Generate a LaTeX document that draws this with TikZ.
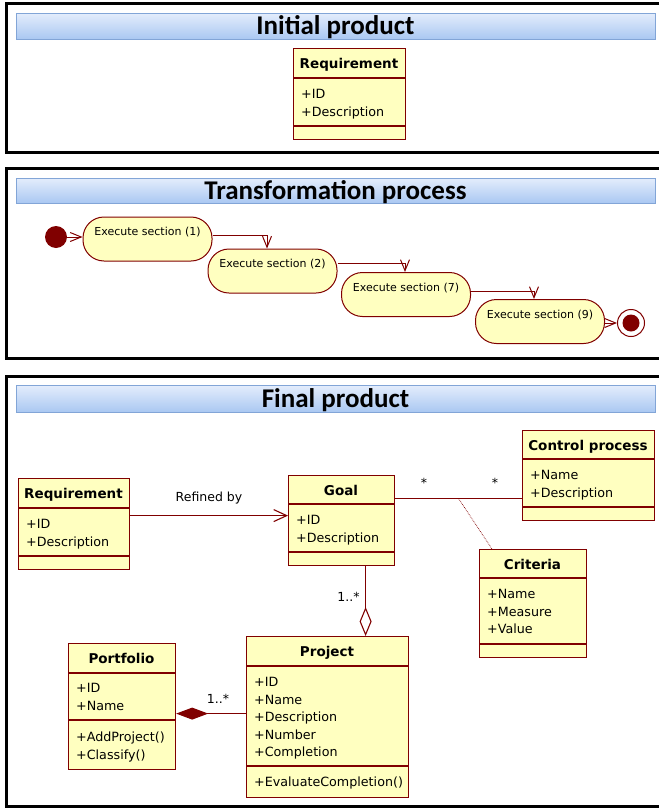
\documentclass[tikz,border=0pt]{standalone}
\usepackage{fontspec}
\setmainfont{DejaVu Sans}
\newfontfamily\titlefont{Carlito}
\usetikzlibrary{arrows.meta}
\definecolor{umlred}{RGB}{128,0,0}
\definecolor{umlyellow}{RGB}{255,255,192}
\definecolor{bartop}{RGB}{228,237,252}
\definecolor{barbot}{RGB}{170,200,242}
\definecolor{barline}{RGB}{130,165,215}
\tikzset{
  panel/.style={draw=black, line width=3pt},
  titlebar/.style={draw=barline, line width=0.8pt, top color=bartop, bottom color=barbot,
    minimum width=639pt, inner sep=0pt, text height=17.4pt, text depth=0pt,
    font=\titlefont\bfseries\fontsize{27}{30}\selectfont},
  classbox/.style={draw=umlred, fill=umlyellow, line width=1.2pt, anchor=north west, inner sep=0pt},
  classline/.style={draw=umlred, line width=1.2pt},
  clsname/.style={inner sep=0pt, text height=9.8pt, text depth=0pt,
    font=\bfseries\fontsize{13.5}{16}\selectfont},
  clsattr/.style={anchor=north west, align=left, inner sep=0pt,
    font=\fontsize{12.7}{17.5}\selectfont},
  actstate/.style={draw=umlred, fill=umlyellow, line width=1pt, rounded corners=21pt,
    minimum width=129pt, minimum height=44pt, inner sep=0pt, text height=9pt, text depth=16pt,
    font=\fontsize{11}{13}\selectfont},
  initnode/.style={circle, fill=umlred, minimum size=22pt, inner sep=0pt},
  finout/.style={circle, draw=umlred, fill=white, line width=1pt, minimum size=27pt, inner sep=0pt},
  finin/.style={circle, fill=umlred, minimum size=17pt, inner sep=0pt},
  trans/.style={draw=umlred, line width=1pt, -{Straight Barb[length=11pt,width=9pt]}},
  umlline/.style={draw=umlred, line width=1.1pt},
  lbl/.style={anchor=base, inner sep=0pt, font=\fontsize{12.5}{15}\selectfont},
}
\newcommand\umlclass[8]{%
  \node[classbox, minimum width={(#4-#2)*1pt}, minimum height={(#5-#3)*1pt}] (#1) at (#2,#3) {};
  \draw[classline] ([yshift={(#3-#6)*1pt}]#1.north west) -- ([yshift={(#3-#6)*1pt}]#1.north east);
  \draw[classline] ([yshift={(#3-#7)*1pt}]#1.north west) -- ([yshift={(#3-#7)*1pt}]#1.north east);
  \node[clsname] (#1-name) at ({(#2+#4)/2},{(#3+#6)/2+1}) {#8};
}
\begin{document}
\begin{tikzpicture}[x=1pt, y=-1pt]
\useasboundingbox (0,0) rectangle (659,809);
% panels
\draw[panel] (659,3) -- (6,3) -- (6,152) -- (659,152);
\draw[panel] (659,168) -- (6,168) -- (6,358) -- (659,358);
\draw[panel] (659,376) -- (6,376) -- (6,806) -- (659,806);
% title bars
\node[titlebar, minimum height=26pt] (t1) at (335.5,26) {Initial product};
\node[titlebar, minimum height=25pt] (t2) at (335.5,190.5) {Transformation process};
\node[titlebar, minimum height=27pt] (t3) at (335.5,398.5) {Final product};
% initial product
\umlclass{ireq}{293}{48}{405}{139}{78}{126}{Requirement}
\node[clsattr] (ireq-attr) at (301,88.6) {\rule{0pt}{10pt}+ID\\+Description};
% transformation process
\node[initnode] (init) at (56,237) {};
\node[actstate] (s1) at (147.5,239) {Execute section (1)};
\node[actstate] (s2) at (272.5,271) {Execute section (2)};
\node[actstate] (s3) at (406,294.5) {Execute section (7)};
\node[actstate] (s4) at (540,321.5) {Execute section (9)};
\node[finout] (fin) at (631,323) {};
\node[finin] (fin-dot) at (fin) {};
\draw[trans] (init.east) -- (init.east -| s1.west);
\draw[trans] ([yshift=4pt]s1.east) -| ([xshift=-5.5pt]s2.north);
\draw[trans] ([yshift=8pt]s2.east) -| ([xshift=-1pt]s3.north);
\draw[trans] ([yshift=3.5pt]s3.east) -| ([xshift=-6pt]s4.north);
\draw[trans] (fin.west -| s4.east) -- (fin.west);
% final product
\umlclass{req}{18}{478}{129}{569}{508}{556}{Requirement}
\node[clsattr] (req-attr) at (26,518.6) {\rule{0pt}{10pt}+ID\\+Description};
\umlclass{goal}{288}{475}{394}{565}{504}{552}{Goal}
\node[clsattr] (goal-attr) at (296,514.6) {\rule{0pt}{10pt}+ID\\+Description};
\umlclass{ctrl}{522}{430}{654}{520}{459}{507}{Control process}
\node[clsattr] (ctrl-attr) at (530,469.6) {\rule{0pt}{10pt}+Name\\+Description};
\umlclass{crit}{479}{549}{586}{657}{578}{644}{Criteria}
\node[clsattr] (crit-attr) at (487,588.6) {\rule{0pt}{10pt}+Name\\+Measure\\+Value};
\umlclass{port}{68}{643}{175}{769}{673}{720}{Portfolio}
\node[clsattr] (port-attr) at (76,682.6) {\rule{0pt}{10pt}+ID\\+Name};
\node[clsattr] (port-meth) at (76,731.6) {\rule{0pt}{10pt}+AddProject()\\+Classify()};
\umlclass{proj}{246}{636}{408}{797}{666}{766}{Project}
\node[clsattr] (proj-attr) at (254,676.6) {\rule{0pt}{10pt}+ID\\+Name\\+Description\\+Number\\+Completion};
\node[clsattr] (proj-meth) at (254,776.6) {\rule{0pt}{10pt}+EvaluateCompletion()};
% connectors
\draw[umlline, -{Straight Barb[length=13pt,width=12pt]}] ([yshift=8.5pt]req.east) -- ([yshift=8.5pt]req.east -| goal.west);
\node[lbl] (refined) at (209,501.6) {Refined by};
\draw[umlline] ([yshift=22pt]goal.east) -- coordinate[pos=0.5] (ac) ([yshift=22pt]goal.east -| ctrl.west);
\node[lbl] (m1) at (424,487.4) {*};
\node[lbl] (m2) at (495,487.4) {*};
\draw[draw=umlred, line width=0.7pt, densely dotted] (ac) -- ([xshift=13pt]crit.north west);
\draw[umlline, {Diamond[open, length=29pt, width=12pt]}-] ([xshift=24pt]goal.south |- proj.north) -- ([xshift=24pt]goal.south);
\node[lbl] (m3) at (348.5,601.5) {1..*};
\draw[umlline, {Diamond[length=32pt, width=12pt, fill=umlred]}-] ([yshift=-7pt]port.east) -- ([yshift=-7pt]port.east -| proj.west);
\node[lbl] (m4) at (218,703.5) {1..*};
\end{tikzpicture}
\end{document}
